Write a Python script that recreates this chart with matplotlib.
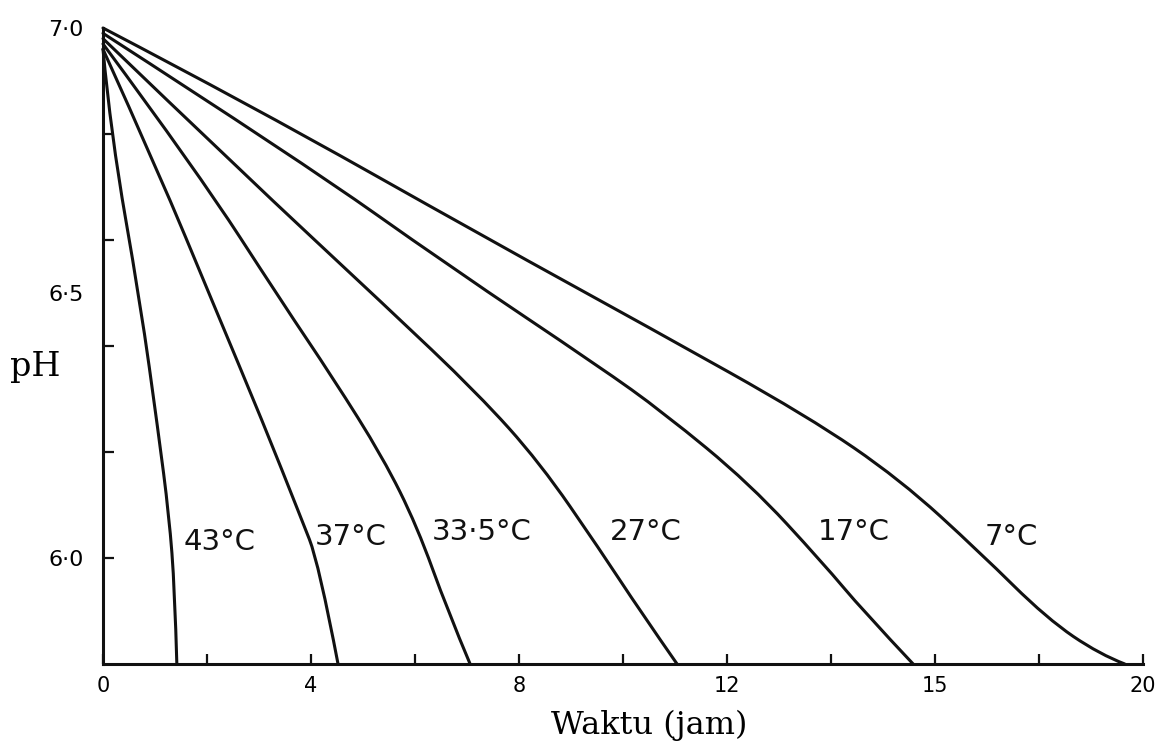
import matplotlib
matplotlib.use("Agg")
import matplotlib.pyplot as plt
from matplotlib.path import Path
from matplotlib.patches import PathPatch

# waktu (jam) vs pH
t_43 = [0, 0.15, 0.72, 1.06, 1.27, 1.38, 1.42]
ph_43 = [6.96, 6.80, 6.48, 6.24, 6.08, 5.94, 5.80]

t_37 = [0, 1.06, 2.12, 3.08, 3.79, 4.15, 4.52]
ph_37 = [6.96, 6.73, 6.48, 6.255, 6.08, 5.99, 5.80]

t_335 = [0, 1.81, 3.46, 4.42, 5.38, 6.04, 6.63, 7.06]
ph_335 = [6.97, 6.73, 6.48, 6.34, 6.19, 6.06, 5.90, 5.80]

t_27 = [0, 2.65, 5.44, 7.21, 8.4, 9.56, 10.33, 11.04]
ph_27 = [6.98, 6.73, 6.475, 6.31, 6.18, 6.015, 5.90, 5.80]

t_17 = [0, 3.79, 6.67, 9.56, 10.77, 12.44, 13.85, 14.62, 15.58]
ph_17 = [6.99, 6.75, 6.55, 6.36, 6.275, 6.14, 5.99, 5.90, 5.80]

t_7 = [0, 2.83, 7.44, 10.52, 13.56, 15.33, 16.87, 18.15, 19.17, 19.65]
ph_7 = [7.0, 6.855, 6.60, 6.434, 6.267, 6.148, 6.01, 5.886, 5.818, 5.80]

curve_labels = ["43°C", "37°C", "33·5°C", "27°C", "17°C", "7°C"]
label_t = [1.54, 4.08, 6.33, 9.75, 13.75, 16.96]
label_ph = [6.03, 6.04, 6.05, 6.05, 6.05, 6.04]

x_ticks = [0, 4, 8, 12, 16, 20]
x_ticklabels = ["0", "4", "8", "12", "15", "20"]
x_minor = [2, 6, 10, 14, 18]
# tick marks on the pH axis, labels only at 6.0, 6.5, 7.0
y_marks = [6.0, 6.2, 6.4, 6.6, 6.8]
y_marklabels = ["6·0", "", "", "", ""]
y_extra = [6.5, 7.0]
y_extralabels = ["6·5", "7·0"]


def smooth_path(xs, ys):
    # quadratic bezier through midpoints so the hand drawn look stays smooth
    pts = list(zip(xs, ys))
    verts = [pts[0]]
    codes = [Path.MOVETO]
    n = len(pts)
    for i in range(1, n - 1):
        if i < n - 2:
            end = ((pts[i][0] + pts[i + 1][0]) / 2, (pts[i][1] + pts[i + 1][1]) / 2)
        else:
            end = pts[n - 1]
        verts += [pts[i], end]
        codes += [Path.CURVE3, Path.CURVE3]
    return Path(verts, codes)


fig = plt.figure(figsize=(11.7, 7.48), dpi=100)
ax = fig.add_axes([103 / 1170, 1 - 664 / 748, 1040 / 1170, 636 / 748])

curves = [(t_43, ph_43), (t_37, ph_37), (t_335, ph_335),
          (t_27, ph_27), (t_17, ph_17), (t_7, ph_7)]
for xs, ys in curves:
    patch = PathPatch(smooth_path(xs, ys), facecolor="none", edgecolor="#111111",
                      linewidth=2.2, transform=ax.transData, clip_on=False,
                      capstyle="round", joinstyle="round")
    ax.add_patch(patch)

for lab, x, y in zip(curve_labels, label_t, label_ph):
    ax.text(x, y, lab, fontsize=21, family="DejaVu Sans", color="#111111",
            ha="left", va="center")

ax.set_xlim(0, 20)
ax.set_ylim(5.8, 7.0)

for side in ["top", "right"]:
    ax.spines[side].set_visible(False)
for side in ["left", "bottom"]:
    ax.spines[side].set_linewidth(2.2)
    ax.spines[side].set_color("#111111")

ax.set_xticks(x_ticks)
ax.set_xticklabels(x_ticklabels)
ax.set_xticks(x_minor, minor=True)
ax.set_yticks(y_marks)
ax.set_yticklabels(y_marklabels)
ax.set_yticks(y_extra, minor=True)
ax.set_yticklabels(y_extralabels, minor=True)

ax.tick_params(axis="x", which="both", direction="in", length=7, width=1.6,
               color="#111111", labelsize=15, pad=9)
ax.tick_params(axis="y", which="major", direction="in", length=8, width=1.6,
               color="#111111", labelsize=16, pad=14)
ax.tick_params(axis="y", which="minor", length=0, labelsize=16, pad=14)

ax.set_ylabel("pH", family="DejaVu Serif", fontsize=24, rotation=0,
              ha="center", va="center")
ax.yaxis.set_label_coords(-0.065, 0.467)
ax.set_xlabel("Waktu (jam)", family="DejaVu Serif", fontsize=23, va="center")
ax.xaxis.set_label_coords(0.525, -0.096)

fig.savefig("out.png", dpi=100, facecolor="white")
